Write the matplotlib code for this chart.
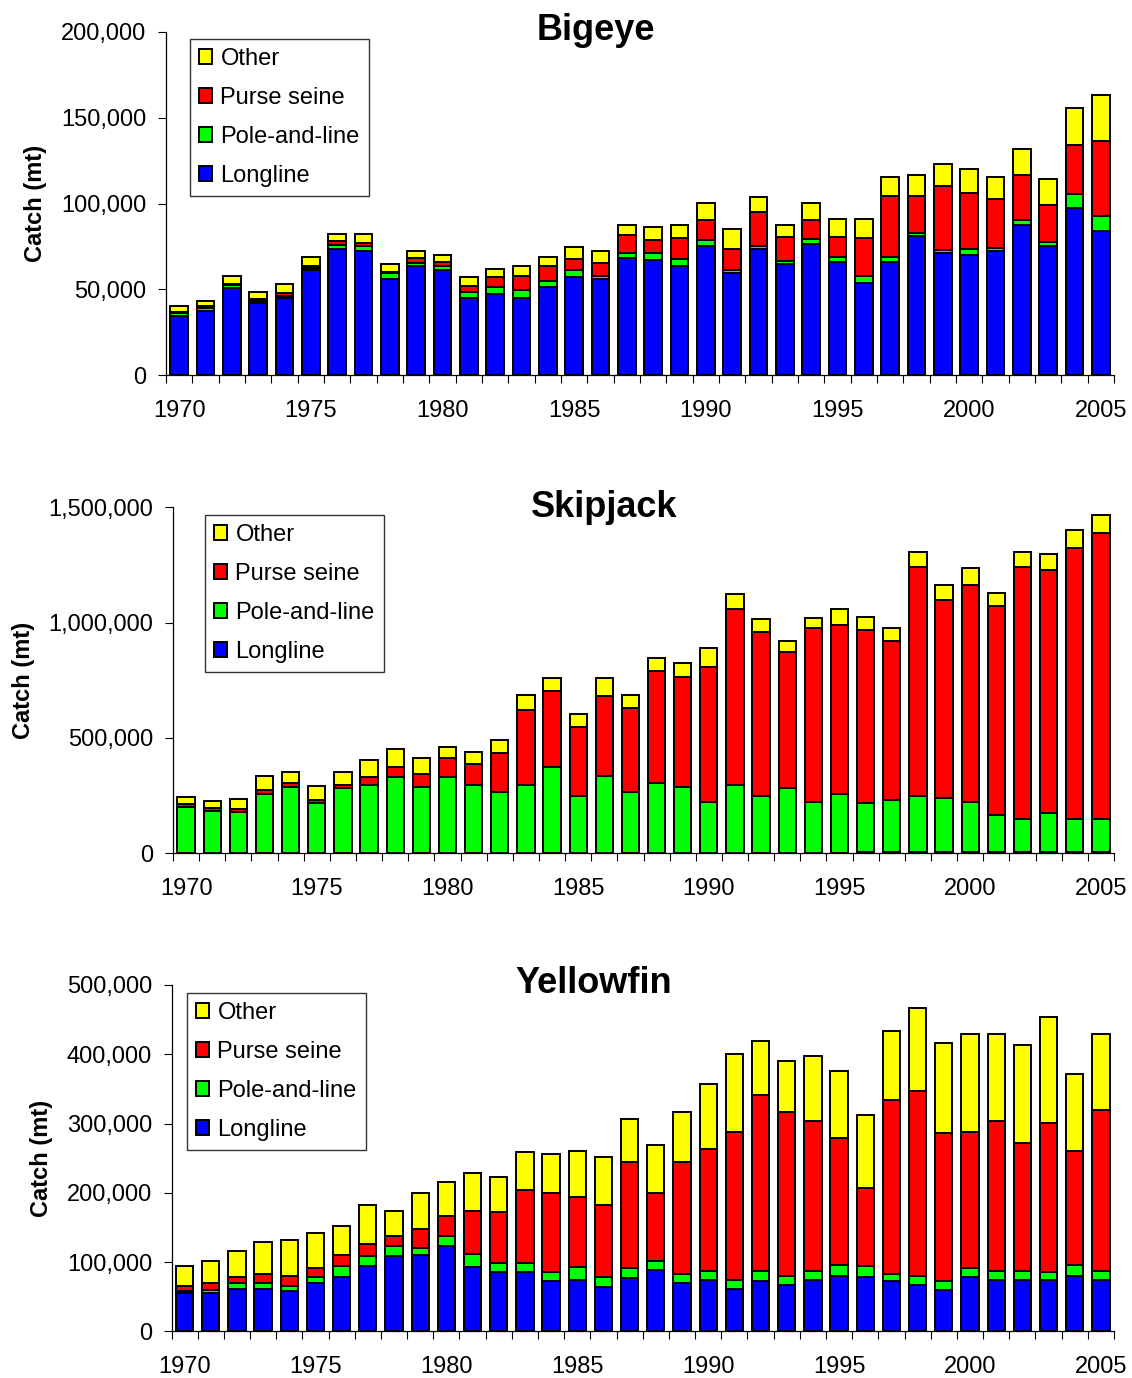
import matplotlib
matplotlib.use("Agg")
import matplotlib.pyplot as plt
import numpy as np
from matplotlib.ticker import FuncFormatter, FixedLocator
from matplotlib.patches import Patch

plt.rcParams['font.family'] = ['Liberation Sans', 'DejaVu Sans']

years = list(range(1970, 2006))
year_labels = ['1970', '1975', '1980', '1985', '1990', '1995', '2000', '2005']
gear_names = ['Longline', 'Pole-and-line', 'Purse seine', 'Other']
gear_colors = ['#0000FF', '#00FF00', '#FF0000', '#FFFF00']

# Bigeye catch (thousand mt)
bigeye_longline = [34.5, 37.4, 50.6, 41.9, 44.8, 61.2, 73.6, 72.5, 56.2, 63.6, 61.2, 45.2,
                   47.3, 45.2, 51.6, 57.4, 56.2, 68.0, 67.1, 63.6, 75.4, 59.3, 73.3, 64.5,
                   76.6, 65.7, 53.9, 65.7, 81.0, 71.3, 70.2, 72.5, 87.6, 75.2, 97.1, 84.1]
bigeye_pole = [1.5, 1.5, 1.9, 1.4, 1.5, 1.4, 2.5, 2.5, 3.1, 1.9, 2.3, 3.5,
               4.3, 4.5, 3.3, 3.9, 1.7, 2.9, 3.9, 4.1, 3.1, 1.9, 1.9, 2.1,
               2.7, 2.9, 3.9, 2.9, 2.1, 1.9, 3.1, 1.6, 2.7, 2.3, 8.3, 8.5]
bigeye_purse = [0.8, 1.4, 0.8, 1.3, 1.4, 1.3, 1.9, 1.9, 1.0, 2.5, 2.3, 3.3,
                5.8, 8.1, 8.7, 6.6, 7.6, 10.7, 7.8, 12.0, 11.8, 12.6, 19.6, 14.0,
                11.0, 12.0, 21.9, 36.0, 21.5, 37.0, 32.6, 28.5, 26.4, 21.9, 28.5, 43.6]
bigeye_other = [3.5, 2.9, 4.3, 4.1, 5.2, 5.0, 4.1, 5.2, 4.5, 4.5, 4.3, 5.2,
                4.3, 5.8, 5.4, 6.6, 7.0, 6.0, 7.8, 7.9, 10.1, 11.4, 9.1, 6.8,
                10.1, 10.1, 11.0, 11.0, 12.0, 12.6, 14.0, 13.0, 15.1, 14.7, 21.5, 26.7]

# Skipjack catch (thousand mt)
skipjack_longline = [0, 0, 0, 0, 0, 0, 0, 0, 0, 0, 0, 0,
                     0, 0, 0, 0, 0, 0, 0, 0, 0, 0, 0, 0,
                     0, 0, 5, 5, 5, 5, 5, 5, 5, 5, 5, 5]
skipjack_pole = [200, 184, 177, 258, 289, 217, 281, 297, 330, 289, 330, 297,
                 265, 297, 376, 250, 337, 265, 304, 289, 223, 297, 249, 281,
                 223, 256, 211, 227, 244, 235, 218, 163, 145, 170, 145, 145]
skipjack_purse = [13, 12, 16, 17, 14, 16, 17, 33, 42, 55, 81, 90,
                  169, 326, 326, 297, 347, 365, 485, 476, 583, 760, 710, 590,
                  754, 735, 751, 687, 994, 857, 938, 904, 1093, 1052, 1172, 1237]
skipjack_other = [29, 29, 42, 58, 51, 59, 56, 74, 81, 68, 49, 51,
                  59, 64, 56, 58, 74, 56, 58, 58, 82, 67, 58, 48,
                  41, 68, 58, 58, 64, 65, 74, 56, 64, 72, 81, 81]

# Yellowfin catch (thousand mt)
yellowfin_longline = [55.4, 55.4, 61.2, 61.2, 58.8, 69.8, 78.0, 93.9, 109.3, 109.8, 122.8, 93.4,
                      86.2, 86.2, 72.3, 74.7, 64.5, 77.1, 88.2, 69.8, 74.7, 61.7, 72.3, 67.4,
                      74.7, 80.4, 78.0, 72.3, 67.4, 59.2, 78.0, 74.7, 74.7, 74.7, 80.4, 74.7]
yellowfin_pole = [2.5, 4.8, 8.7, 8.7, 6.3, 8.2, 15.9, 15.4, 14.5, 10.6, 14.5, 18.3,
                  12.5, 12.5, 13.5, 18.8, 13.5, 14.0, 14.0, 13.0, 13.0, 12.0, 15.4, 12.5,
                  13.0, 15.9, 15.9, 10.6, 12.5, 13.0, 13.0, 13.0, 13.0, 10.6, 15.9, 13.0]
yellowfin_purse = [8.2, 9.6, 8.2, 13.5, 15.4, 13.5, 16.4, 16.9, 13.5, 27.5, 28.9, 62.6,
                   73.2, 105.5, 113.2, 100.2, 104.0, 153.2, 96.8, 161.4, 174.9, 213.4, 253.4, 236.5,
                   215.8, 182.6, 113.2, 250.5, 266.4, 214.8, 196.1, 215.8, 183.5, 215.3, 164.3, 231.7]
yellowfin_other = [28.9, 32.3, 37.6, 45.8, 51.1, 50.6, 42.4, 55.9, 37.1, 51.1, 49.1, 54.4,
                   50.6, 54.0, 56.4, 67.0, 70.3, 61.7, 69.4, 72.7, 94.9, 113.2, 78.5, 73.2,
                   94.4, 97.3, 104.5, 99.7, 120.9, 129.1, 142.6, 126.2, 142.6, 153.7, 110.3, 110.3]

panels = [
    dict(title='Bigeye', series=[bigeye_longline, bigeye_pole, bigeye_purse, bigeye_other],
         yticks=[0, 50000, 100000, 150000, 200000],
         box=(166, 31.7, 1114, 375.3), title_xy=(596, 40), legend_xy=(190, 39)),
    dict(title='Skipjack', series=[skipjack_longline, skipjack_pole, skipjack_purse, skipjack_other],
         yticks=[0, 500000, 1000000, 1500000],
         box=(173, 507.3, 1114, 853.3), title_xy=(604, 517), legend_xy=(205, 515)),
    dict(title='Yellowfin', series=[yellowfin_longline, yellowfin_pole, yellowfin_purse, yellowfin_other],
         yticks=[0, 100000, 200000, 300000, 400000, 500000],
         box=(171.5, 985, 1114, 1331.3), title_xy=(594, 993), legend_xy=(187, 993)),
]

W, H = 1132, 1378
fig = plt.figure(figsize=(W / 100, H / 100), dpi=100)
FS = 17

fmt = FuncFormatter(lambda v, p: f"{int(round(v)):,}")

for p in panels:
    x0, y0, x1, y1 = p['box']
    ax = fig.add_axes([x0 / W, 1 - y1 / H, (x1 - x0) / W, (y1 - y0) / H])
    x = np.arange(len(years))
    bottom = np.zeros(len(years))
    for vals, col, name in zip(p['series'], gear_colors, gear_names):
        v = np.array(vals, dtype=float) * 1000
        ax.bar(x, v, bottom=bottom, width=0.66, color=col, edgecolor='black',
               linewidth=1.4, label=name, zorder=2)
        bottom += v
    ax.set_xlim(-0.5, len(years) - 0.5)
    ax.set_ylim(p['yticks'][0], p['yticks'][-1])
    ax.set_yticks(p['yticks'])
    ax.yaxis.set_major_formatter(fmt)
    label_pos = [years.index(int(s)) for s in year_labels]
    ax.set_xticks(label_pos)
    ax.set_xticklabels(year_labels)
    ax.xaxis.set_minor_locator(FixedLocator(np.arange(-0.5, len(years), 1.0)))
    ax.tick_params(axis='x', which='major', length=0, pad=17.5, labelsize=FS)
    ax.tick_params(axis='x', which='minor', length=5.5, width=0.8, direction='out', color='black')
    ax.tick_params(axis='y', which='major', length=5.5, width=0.8, direction='out', pad=8.5,
                   labelsize=FS)
    for s in ['top', 'right']:
        ax.spines[s].set_visible(False)
    for s in ['left', 'bottom']:
        ax.spines[s].set_linewidth(0.9)
        ax.spines[s].set_color('black')
    ax.set_ylabel('Catch (mt)', fontsize=FS, fontweight='bold', labelpad=10)

    handles = [Patch(facecolor=c, edgecolor='black', linewidth=1.4) for c in gear_colors]
    lx, ly = p['legend_xy']
    leg = ax.legend(handles[::-1], gear_names[::-1], loc='upper left',
                    bbox_to_anchor=(lx / W, 1 - ly / H), bbox_transform=fig.transFigure,
                    fontsize=FS, frameon=True, fancybox=False, shadow=False,
                    borderaxespad=0, borderpad=0.38, labelspacing=0.72,
                    handlelength=0.56, handleheight=0.56, handletextpad=0.35)
    leg.get_frame().set_edgecolor('#333333')
    leg.get_frame().set_linewidth(1.0)
    leg.get_frame().set_alpha(1)

    tx, ty = p['title_xy']
    fig.text(tx / W, 1 - ty / H, p['title'], fontsize=26, fontweight='bold',
             ha='center', va='baseline')

fig.savefig('out.png', dpi=100)
